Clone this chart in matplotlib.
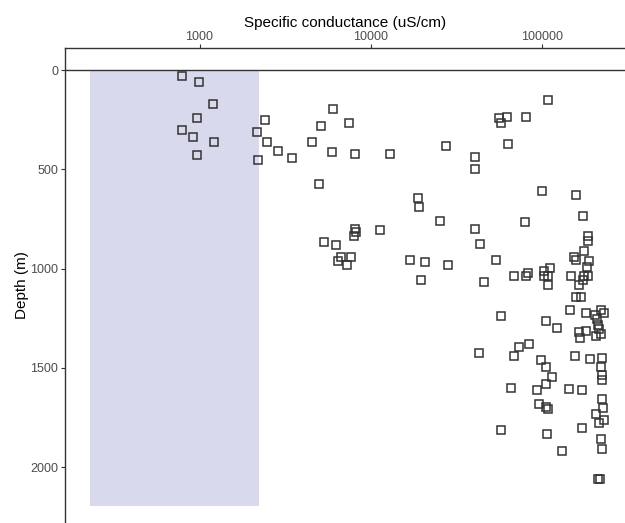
import matplotlib
matplotlib.use("Agg")
import matplotlib.pyplot as plt
from matplotlib.ticker import FixedLocator, NullLocator

plt.rcParams["font.family"] = ["Liberation Sans", "DejaVu Sans"]

# conductance (uS/cm) and depth (m)
conductance = [
    792, 987, 1202, 973, 792, 919, 1219, 973,
    2398, 2153, 2495, 2894, 3465, 2183,
    6039, 5117, 7459, 4535, 5935, 8085, 4982,
    108400, 56300, 62950, 57840, 80640, 63300, 27610, 13000, 40930, 40930,
    100400, 19020, 19200, 158600, 25470, 40930, 43500,
    8085, 8227, 8010, 11320, 5372, 6262, 6698, 7661, 6484, 7261,
    17010, 20820, 28250, 19720,
    174300, 79900, 186400, 186400, 176600, 154400, 158600, 188900, 184700,
    54300, 46200, 68600, 80640, 82820, 103600, 111400, 103100, 108400, 108400,
    148300, 177300, 186400, 173600, 165200, 158000, 169700, 145700,
    58080, 181500, 204800, 222000, 231200, 210400, 214100, 216100,
    105900, 122900, 165200, 180700, 166700, 206800, 222000,
    73400, 83950, 42850, 69180, 98670, 105500, 157100, 190700, 225000,
    222900, 225000, 225000, 114400, 105500, 66440, 93870, 143800, 172000,
    225000, 228000, 206800, 231200, 215300, 96830, 105500, 108900,
    58080, 106900, 172000, 222900, 225000, 130900, 212300, 219900,
]
depth = [
    30, 62, 170, 240, 301, 336, 361, 427,
    250, 311, 364, 410, 442, 452,
    195, 282, 265, 364, 412, 422, 573,
    150, 243, 238, 265, 235, 373, 381, 422, 437, 497,
    608, 643, 689, 628, 762, 803, 874,
    803, 818, 836, 806, 868, 882, 942, 942, 962, 982,
    959, 969, 982, 1059,
    736, 766, 836, 861, 913, 944, 959, 964, 994,
    959, 1068, 1036, 1039, 1024, 1011, 999, 1039, 1039, 1082,
    1036, 1036, 1039, 1056, 1085, 1145, 1142, 1208,
    1241, 1226, 1233, 1209, 1226, 1256, 1285, 1303,
    1265, 1301, 1320, 1316, 1349, 1342, 1332,
    1397, 1379, 1426, 1441, 1460, 1495, 1439, 1454, 1452,
    1495, 1538, 1562, 1545, 1582, 1604, 1612, 1607, 1612,
    1658, 1703, 1732, 1762, 1780, 1684, 1699, 1709,
    1814, 1834, 1804, 1859, 1909, 1919, 2062, 2062,
]

# shaded band
band_x = [230, 2230]
band_depth = [0, 2195]

x_ticks = [1000, 10000, 100000]
y_ticks = [0, 500, 1000, 1500, 2000]

fig = plt.figure(figsize=(6.25, 5.23), dpi=100)
ax = fig.add_axes([65 / 625, 0, 560 / 625, 475 / 523])

ax.set_xscale("log")
ax.set_xlim(10 ** 2.2138, 10 ** 5.4866)
ax.set_ylim(2282, -111)

ax.fill_between(band_x, band_depth[0], band_depth[1], color="#d9d9ed", lw=0, zorder=1)
ax.axhline(0, color="#333333", lw=1.0, zorder=2)

ax.plot(conductance, depth, ls="none", marker="s", ms=5.5, mfc="none",
        mec="#333333", mew=1.1, zorder=3)

ax.xaxis.set_major_locator(FixedLocator(x_ticks))
ax.xaxis.set_minor_locator(NullLocator())
ax.set_xticklabels([str(v) for v in x_ticks])
ax.set_yticks(y_ticks)
ax.xaxis.tick_top()
ax.xaxis.set_label_position("top")
ax.tick_params(axis="both", direction="out", length=3, width=0.8,
               color="#333333", labelcolor="#4d4d4d", labelsize=9)
ax.tick_params(axis="x", pad=0.5)
ax.tick_params(axis="y", pad=2)

ax.set_xlabel("Specific conductance (uS/cm)", fontsize=11, labelpad=3)
ax.set_ylabel("Depth (m)", fontsize=11, labelpad=1)

for side in ["right", "bottom"]:
    ax.spines[side].set_visible(False)
for side in ["left", "top"]:
    ax.spines[side].set_color("#333333")
    ax.spines[side].set_linewidth(1.0)

fig.savefig("out.png", dpi=100)
